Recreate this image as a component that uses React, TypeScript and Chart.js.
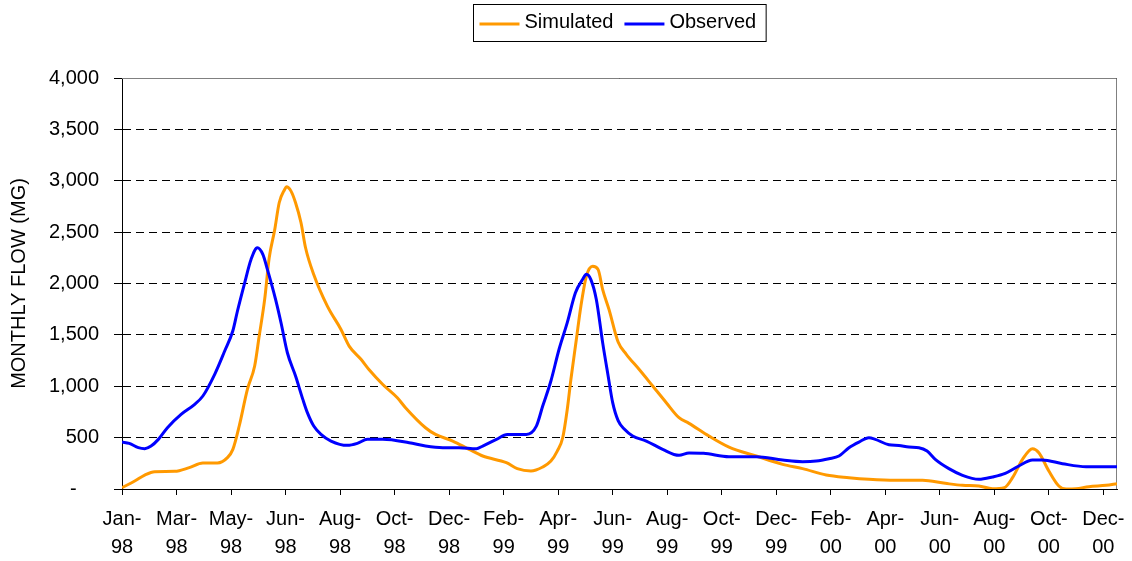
import React, { useEffect, useRef } from "react";
import { Chart, registerables } from "chart.js";

Chart.register(...registerables);

// Tick labels (one every 60 days, starting 1 Jan 1998)
const X_TICK_LABELS = [
  "Jan-98", "Mar-98", "May-98", "Jun-98", "Aug-98", "Oct-98", "Dec-98",
  "Feb-99", "Apr-99", "Jun-99", "Aug-99", "Oct-99", "Dec-99",
  "Feb-00", "Apr-00", "Jun-00", "Aug-00", "Oct-00", "Dec-00",
];
const TICK_STEP_DAYS = 60;
const LAST_DAY = 1095; // 31 Dec 2000

// Simulated series (day since 1 Jan 1998, flow MG)
const SIM_DAYS = [0, 14, 25, 36, 58, 74, 89, 105, 116, 122, 129, 138, 146, 151, 157, 162, 168, 173, 179, 181, 186, 191, 197, 202, 211, 226, 241, 250, 263, 272, 287, 303, 312, 334, 345, 364, 382, 397, 423, 435, 450, 463, 472, 479, 485, 490, 494, 500, 505, 511, 518, 524, 529, 536, 546, 555, 569, 584, 599, 613, 624, 646, 668, 698, 727, 749, 775, 800, 822, 851, 881, 906, 925, 943, 958, 971, 980, 991, 1002, 1009, 1020, 1031, 1039, 1050, 1064, 1083, 1095];
const SIM_FLOW = [13, 78, 136, 169, 172, 208, 253, 253, 305, 386, 613, 970, 1197, 1489, 1845, 2250, 2520, 2786, 2915, 2941, 2899, 2786, 2591, 2348, 2088, 1780, 1553, 1391, 1262, 1160, 1017, 888, 791, 596, 531, 467, 386, 321, 256, 198, 175, 214, 272, 369, 499, 774, 1066, 1455, 1779, 2070, 2168, 2135, 1941, 1746, 1430, 1311, 1165, 1003, 840, 694, 639, 515, 408, 321, 240, 198, 136, 110, 94, 84, 84, 55, 36, 29, 3, 13, 110, 288, 392, 353, 175, 29, 0, 3, 23, 36, 52];

// Observed series
const OBS_DAYS = [0, 8, 18, 25, 32, 40, 50, 65, 80, 89, 102, 113, 122, 127, 135, 142, 149, 155, 160, 169, 175, 182, 191, 199, 204, 211, 219, 230, 248, 259, 270, 287, 316, 334, 353, 371, 390, 397, 412, 424, 445, 456, 463, 472, 481, 490, 499, 507, 511, 516, 522, 529, 535, 540, 546, 553, 562, 577, 595, 613, 624, 640, 668, 698, 727, 749, 764, 778, 789, 800, 811, 822, 829, 844, 855, 866, 877, 886, 895, 910, 925, 943, 958, 972, 987, 1002, 1013, 1035, 1061, 1095];
const OBS_FLOW = [457, 444, 402, 392, 418, 483, 597, 726, 824, 905, 1116, 1343, 1540, 1730, 2007, 2234, 2348, 2283, 2137, 1845, 1618, 1326, 1099, 872, 743, 613, 532, 467, 425, 444, 483, 483, 450, 418, 402, 402, 392, 418, 483, 531, 531, 612, 807, 1051, 1360, 1619, 1911, 2041, 2090, 2038, 1844, 1422, 1100, 840, 665, 581, 516, 467, 386, 328, 350, 347, 314, 314, 282, 266, 272, 295, 321, 402, 457, 499, 483, 431, 424, 408, 402, 369, 288, 198, 133, 94, 117, 152, 224, 282, 282, 246, 217, 217];

const SERIES_NAMES = ["Simulated", "Observed"];
const SERIES_COLORS = ["#FF9900", "#0000FF"];

const Y_MIN = 0;
const Y_MAX = 4000;
const Y_STEP = 500;
const Y_TITLE = "MONTHLY FLOW (MG)";

const FONT_FAMILY = '"Liberation Sans", Arial, sans-serif';

const toPoints = (xs: number[], ys: number[]) => xs.map((x, i) => ({ x, y: ys[i] }));

const boxLegend = {
  id: "boxLegend",
  afterDraw(chart: any) {
    const ctx = chart.ctx as CanvasRenderingContext2D;
    const ds = chart.data.datasets;
    ctx.save();
    ctx.font = `20px ${FONT_FAMILY}`;
    const lineLen = 40, padL = 6, gapLT = 5, gapItem = 11, padR = 10;
    let total = padL + padR;
    ds.forEach((d: any, i: number) => {
      total += lineLen + gapLT + ctx.measureText(d.label).width + (i ? gapItem : 0);
    });
    const cx = (chart.chartArea.left + chart.chartArea.right) / 2;
    const x0 = Math.round(cx - total / 2) + 0.5;
    const y0 = 4.5;
    const h = 37;
    ctx.fillStyle = "#fff";
    ctx.fillRect(x0, y0, total, h);
    ctx.strokeStyle = "#000";
    ctx.lineWidth = 1;
    ctx.strokeRect(x0, y0, total, h);
    let x = x0 + padL;
    ds.forEach((d: any, i: number) => {
      if (i) x += gapItem;
      ctx.strokeStyle = d.borderColor;
      ctx.lineWidth = 3;
      ctx.beginPath();
      ctx.moveTo(x, 24);
      ctx.lineTo(x + lineLen, 24);
      ctx.stroke();
      x += lineLen + gapLT;
      ctx.fillStyle = "#000";
      ctx.textBaseline = "middle";
      ctx.textAlign = "left";
      ctx.fillText(d.label, x, 22);
      x += ctx.measureText(d.label).width;
    });
    ctx.restore();
  },
};

const plotFrame = {
  id: "plotFrame",
  beforeDatasetsDraw(chart: any) {
    const { ctx, chartArea: a } = chart;
    ctx.save();
    ctx.strokeStyle = "#808080";
    ctx.lineWidth = 1;
    ctx.beginPath();
    ctx.moveTo(a.left, Math.round(a.top) + 0.5);
    ctx.lineTo(Math.round(a.right) - 0.5, Math.round(a.top) + 0.5);
    ctx.lineTo(Math.round(a.right) - 0.5, a.bottom);
    ctx.stroke();
    ctx.restore();
  },
};

export default function App() {
  const ref = useRef<HTMLCanvasElement | null>(null);

  useEffect(() => {
    if (!ref.current) return;
    const chart = new Chart(ref.current, {
      type: "line",
      data: {
        datasets: [
          {
            label: SERIES_NAMES[0],
            data: toPoints(SIM_DAYS, SIM_FLOW),
            borderColor: SERIES_COLORS[0],
            backgroundColor: SERIES_COLORS[0],
            borderWidth: 3,
            pointRadius: 0,
            tension: 0.4,
            cubicInterpolationMode: "monotone",
            order: 1,
          },
          {
            label: SERIES_NAMES[1],
            data: toPoints(OBS_DAYS, OBS_FLOW),
            borderColor: SERIES_COLORS[1],
            backgroundColor: SERIES_COLORS[1],
            borderWidth: 3,
            pointRadius: 0,
            tension: 0.4,
            cubicInterpolationMode: "monotone",
            order: 0,
          },
        ],
      },
      options: {
        animation: false,
        responsive: false,
        devicePixelRatio: 1,
        layout: { padding: { top: 78, right: 15, left: 0, bottom: 0 } },
        plugins: {
          legend: { display: false },
          tooltip: { enabled: false },
        },
        scales: {
          x: {
            type: "linear",
            min: 0,
            max: LAST_DAY,
            afterBuildTicks: (scale: any) => {
              scale.ticks = X_TICK_LABELS.map((_, i) => ({ value: i * TICK_STEP_DAYS }));
            },
            afterFit: (scale: any) => {
              scale.height = 72;
              scale.paddingRight = 0;
              scale.paddingLeft = 0;
            },
            ticks: {
              autoSkip: false,
              maxRotation: 0,
              minRotation: 0,
              padding: 10,
              color: "#000",
              font: { family: FONT_FAMILY, size: 20, lineHeight: 1.43 },
              callback: (_v: any, i: number) => {
                const [m, y] = X_TICK_LABELS[i].split("-");
                return [m + "-", y];
              },
            },
            grid: {
              display: true,
              drawOnChartArea: false,
              drawTicks: true,
              tickLength: 6,
              color: "#000",
              tickColor: "#000",
            },
            border: { display: true, color: "#000", width: 1 },
          },
          y: {
            min: Y_MIN,
            max: Y_MAX,
            afterFit: (scale: any) => {
              scale.width = 122;
            },
            ticks: {
              stepSize: Y_STEP,
              padding: 15,
              color: "#000",
              font: { family: FONT_FAMILY, size: 20 },
              callback: (v: any) => (Number(v) === 0 ? "-    " : Number(v).toLocaleString("en-US")),
            },
            grid: {
              display: true,
              drawOnChartArea: true,
              drawTicks: true,
              tickLength: 8,
              color: "#000",
              tickColor: "#000",
              lineWidth: 1,
            },
            border: { display: true, color: "#000", width: 1, dash: [8, 5] },
            title: {
              display: true,
              text: Y_TITLE,
              color: "#000",
              font: { family: FONT_FAMILY, size: 20 },
              padding: { top: 7, bottom: 0 },
            },
          },
        },
      },
      plugins: [plotFrame, boxLegend],
    } as any);
    return () => chart.destroy();
  }, []);

  return (
    <div style={{ position: "fixed", left: 0, top: 0, width: 1132, height: 561, background: "#fff" }}>
      <canvas ref={ref} width={1132} height={561} style={{ display: "block" }} />
    </div>
  );
}
